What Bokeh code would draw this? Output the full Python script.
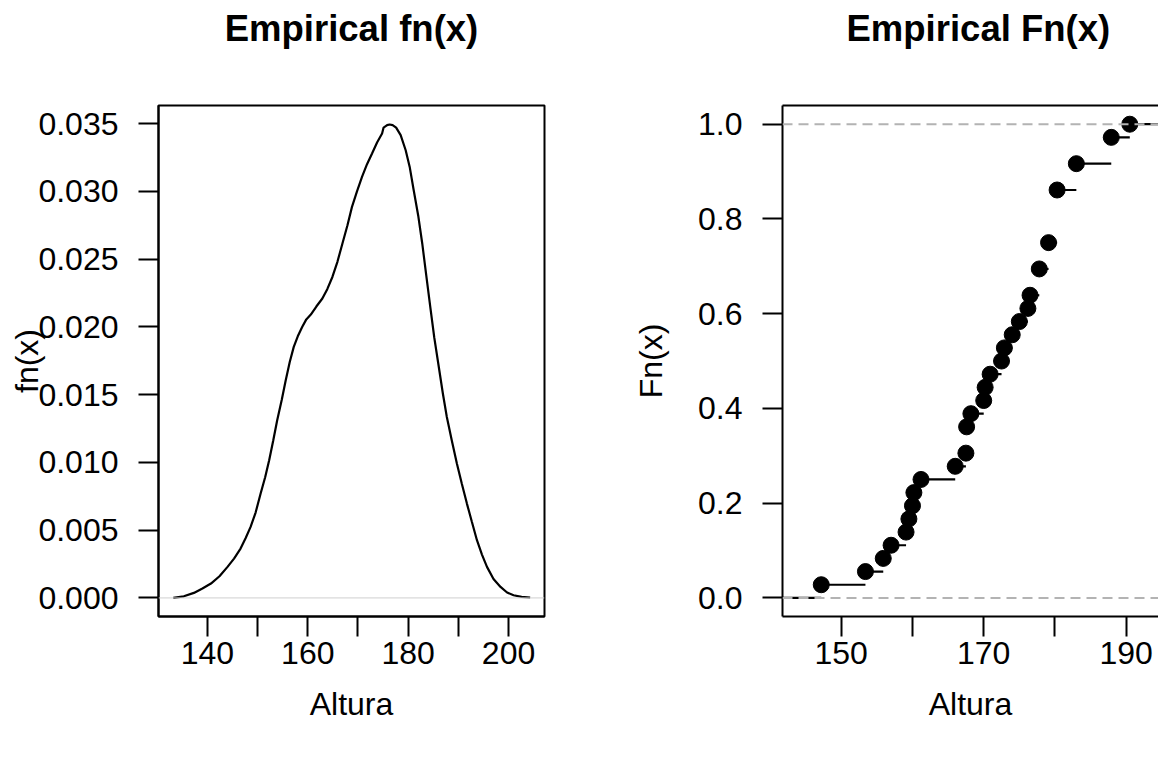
import numpy as np
from bokeh.plotting import figure
from bokeh.layouts import row
from bokeh.models import Range1d, FixedTicker, NumeralTickFormatter, Span, LinearAxis, Title
from bokeh.embed import file_html
from bokeh.resources import INLINE

# ---------------- data ----------------
# density curve of Altura (left panel)
density_x = [133.2, 135.3, 137.3, 139.0, 140.7, 142.4, 144.0, 145.3, 146.6, 147.6,
             148.6, 149.6, 150.6, 151.5, 152.3, 153.1, 153.9, 154.8, 155.6, 156.4,
             157.2, 158.0, 158.9, 159.7, 160.6, 161.7, 162.9, 163.9, 164.9, 165.9,
             166.9, 167.9, 168.8, 169.8, 170.8, 171.8, 172.8, 173.8, 174.8, 175.1,
             175.8, 176.3, 176.9, 177.6, 178.5, 179.5, 180.3, 181.1, 182.0, 182.8,
             183.6, 184.4, 185.2, 186.1, 186.9, 187.7, 188.7, 189.7, 190.7, 191.7,
             192.7, 193.7, 194.7, 195.7, 197.0, 198.4, 199.7, 201.0, 202.6, 204.3]
density_y = [0.0000, 0.00012, 0.00037, 0.0007, 0.00106, 0.0016, 0.00229, 0.0029, 0.00364, 0.0044,
             0.00524, 0.0063, 0.0077, 0.0089, 0.01016, 0.0116, 0.01311, 0.0146, 0.01606, 0.0174,
             0.01852, 0.0193, 0.0200, 0.02055, 0.02091, 0.0215, 0.02209, 0.0228, 0.02368, 0.0248,
             0.02615, 0.0275, 0.02885, 0.0300, 0.03106, 0.0320, 0.03279, 0.0336, 0.03426, 0.0347,
             0.03488, 0.03493, 0.03488, 0.0347, 0.03414, 0.03303, 0.0318, 0.03008, 0.0282, 0.02615,
             0.0238, 0.02147, 0.0192, 0.01704, 0.0151, 0.01335, 0.0116, 0.00992, 0.0084, 0.00696,
             0.0056, 0.00426, 0.0032, 0.00229, 0.0014, 0.00081, 0.0004, 0.0002, 0.00008, 0.00003]

# empirical distribution of Altura (right panel): distinct values and cumulative counts
knots = [147.2, 153.4, 155.9, 157.0, 159.1, 159.5, 160.0, 160.2, 161.2, 166.0,
         167.5, 167.6, 168.2, 170.0, 170.2, 170.9, 172.5, 172.9, 174.0, 175.0,
         176.2, 176.5, 177.8, 179.1, 180.3, 183.0, 187.9, 190.5]
cum_counts = [1, 2, 3, 4, 5, 6, 7, 8, 9, 10,
              11, 13, 14, 15, 16, 17, 18, 19, 20, 21,
              22, 23, 25, 27, 31, 33, 35, 36]
n_obs = 36

left_xticks = [140, 150, 160, 170, 180, 190, 200]
left_xlabels = {140: "140", 150: "", 160: "160", 170: "", 180: "180", 190: "", 200: "200"}
left_yticks = [0.0, 0.005, 0.010, 0.015, 0.020, 0.025, 0.030, 0.035]
right_xticks = [150, 160, 170, 180, 190]
right_xlabels = {150: "150", 160: "", 170: "170", 180: "", 190: "190"}
right_yticks = [0.0, 0.2, 0.4, 0.6, 0.8, 1.0]
ref_levels = [0.0, 1.0]

# ---------------- layout / style ----------------
FONT = "Liberation Sans"
TICK_FS = "32px"
TITLE_FS = "36.5px"
H = 767
W1 = 600
W2 = 1158 - W1
L_XR = (130.25, 207.16)
L_YR = (-0.00137, 0.03633)
R_XR = (141.76, 194.53)
R_YR = (-0.0393, 1.0395)
SPACER = 44  # gap (standoff) between the title and the plot frame


def style_axis(ax, ticks, standoff):
    ax.ticker = FixedTicker(ticks=ticks)
    ax.axis_line_width = 2
    ax.axis_line_color = "black"
    ax.major_tick_line_width = 2
    ax.major_tick_line_color = "black"
    ax.major_tick_out = 20
    ax.major_tick_in = 0
    ax.minor_tick_out = 0
    ax.minor_tick_in = 0
    ax.major_label_text_font = FONT
    ax.major_label_text_font_size = TICK_FS
    ax.major_label_text_color = "black"
    ax.major_label_standoff = standoff
    ax.axis_label_text_font = FONT
    ax.axis_label_text_font_size = TICK_FS
    ax.axis_label_text_font_style = "normal"
    ax.axis_label_text_color = "black"


def base_fig(width, xr, yr, border_left, border_right):
    p = figure(width=width, height=H, output_backend="svg", toolbar_location=None,
               x_range=Range1d(*xr), y_range=Range1d(*yr),
               min_border_left=border_left, min_border_right=border_right,
               min_border_top=105, min_border_bottom=151)
    p.grid.visible = False
    p.background_fill_color = "white"
    p.border_fill_color = "white"
    return p


def add_titles(p, text, align="center", offset=0):
    spacer = Title(text=" ", text_font_size="10px", text_color="white", standoff=SPACER)
    p.add_layout(spacer, "above")
    t = Title(text=text, text_font=FONT, text_font_size=TITLE_FS, text_font_style="bold",
              text_color="black", align=align, offset=offset, standoff=0,
              vertical_align="bottom")
    p.add_layout(t, "above")


# ---------------- left panel: density ----------------
p1 = base_fig(W1, L_XR, L_YR, 158, W1 - 544)
p1.outline_line_color = "black"
p1.outline_line_width = 2
xa1 = p1.below[0]
ya1 = p1.left[0]
style_axis(xa1, left_xticks, 5)
xa1.major_label_overrides = left_xlabels
xa1.axis_label = "Altura"
xa1.axis_label_standoff = 19
style_axis(ya1, left_yticks, 20)
ya1.formatter = NumeralTickFormatter(format="0.000")
ya1.axis_label = "fn(x)"
ya1.axis_label_standoff = -10
add_titles(p1, "Empirical fn(x)")

p1.add_layout(Span(location=0, dimension="width", line_color="#CFCFCF", line_width=1))
p1.line(density_x, density_y, line_color="black", line_width=2.2)

# ---------------- right panel: ECDF ----------------
p2 = base_fig(W2, R_XR, R_YR, 782 - W1, 0)
p2.outline_line_color = None
xa2 = p2.below[0]
ya2 = p2.left[0]
style_axis(xa2, right_xticks, 5)
xa2.major_label_overrides = right_xlabels
xa2.axis_label = "Altura"
xa2.axis_label_standoff = 19
style_axis(ya2, right_yticks, 20)
ya2.formatter = NumeralTickFormatter(format="0.0")
ya2.axis_label = "Fn(x)"
ya2.axis_label_standoff = 26

# top edge of the box (no right edge: the panel is cut by the window)
top = LinearAxis(ticker=FixedTicker(ticks=[]), axis_line_width=2, axis_line_color="black",
                 major_tick_out=0, major_tick_in=0, minor_tick_out=0, minor_tick_in=0,
                 major_label_text_font_size="0px", major_label_standoff=0)
p2.add_layout(top, "above")
add_titles(p2, "Empirical Fn(x)", align="left", offset=64)

F = [c / n_obs for c in cum_counts]
seg_x0 = [R_XR[0]] + knots
seg_x1 = knots + [R_XR[1]]
seg_y = [0.0] + F
p2.segment(x0=seg_x0, y0=seg_y, x1=seg_x1, y1=seg_y, line_color="black", line_width=2.2)
p2.scatter(knots, F, size=16, fill_color="black", line_color="black", marker="circle")
for lev in ref_levels:
    p2.add_layout(Span(location=lev, dimension="width", line_color="#B3B3B3",
                       line_dash="10 6", line_width=2))

layout = row(p1, p2, spacing=0)
open("out.html", "w").write(file_html(layout, INLINE))
